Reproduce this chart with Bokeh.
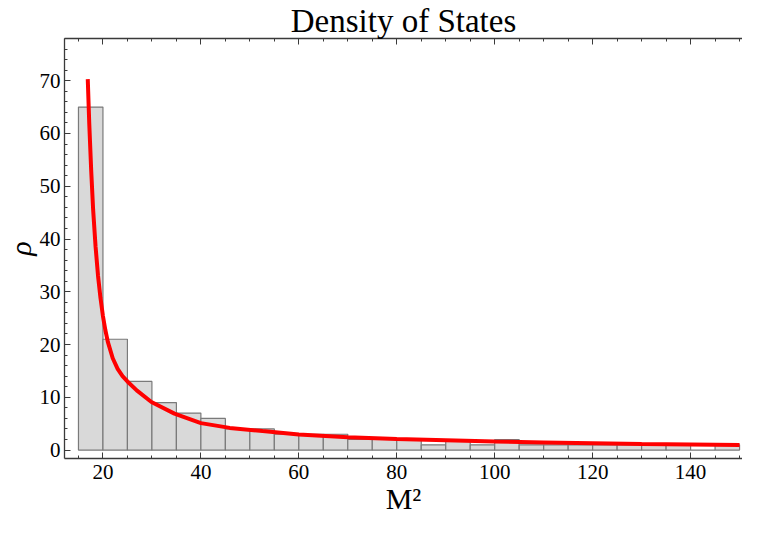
from bokeh.plotting import figure
from bokeh.models import (Range1d, SingleIntervalTicker, LinearAxis, ColumnDataSource,
                          CustomJSTickFormatter)
from bokeh.embed import file_html
from bokeh.resources import INLINE

# Histogram bins (M^2) and counts
bin_left = [15, 20, 25, 30, 35, 40, 45, 50, 55, 60, 65, 70, 75, 80, 85, 90, 95,
            100, 105, 110, 115, 120, 125, 130, 135, 140, 145]
bin_width = 5
counts = [65, 21, 13, 9, 7, 6, 4, 4, 3, 3, 3, 2, 2, 2, 1, 2, 1,
          2, 1, 1, 1, 1, 1, 1, 1, 0, 1]

# Fitted density curve
curve_x = [16.9, 17.2, 17.6, 18.0, 18.5, 19.0, 19.5, 20.0, 20.5, 21.0, 22.0, 23.0,
           24.0, 25.0, 26.9, 29.9, 34.6, 40.0, 45.9, 52.6, 60.0, 70.0, 80.0, 90.0,
           100.0, 110.0, 120.0, 130.0, 140.0, 150.0]
curve_y = [70.3, 62.0, 53.0, 45.5, 38.5, 33.0, 28.8, 25.4, 22.7, 20.5, 17.4, 15.4,
           14.0, 13.0, 11.3, 9.1, 6.9, 5.1, 4.2, 3.6, 2.95, 2.45, 2.1, 1.85,
           1.6, 1.45, 1.3, 1.15, 1.05, 0.95]

bars = ColumnDataSource(dict(
    left=bin_left,
    right=[b + bin_width for b in bin_left],
    top=counts,
    bottom=[0] * len(counts),
))

FONT = "Liberation Serif"
AXIS_COLOR = "#3a3a3a"
TEXT_COLOR = "#000000"

X0, X1 = 12.15, 150.6
Y0, Y1 = -1.6, 78.0

p = figure(width=742, height=517, output_backend="svg", toolbar_location=None,
           x_range=Range1d(X0, X1), y_range=Range1d(Y0, Y1),
           min_border_left=0, min_border_right=0, min_border_top=0,
           min_border_bottom=0)
p.outline_line_color = None
p.grid.visible = False
p.background_fill_color = "white"

p.title.text = "Density of States"
p.title.text_font = FONT
p.title.text_font_size = "33px"
p.title.text_font_style = "normal"
p.title.text_color = TEXT_COLOR
p.title.text_line_height = 0.9
p.title.align = "center"
p.title.standoff = 0
p.title.offset = 0

p.quad(left="left", right="right", top="top", bottom="bottom", source=bars,
       fill_color="#d9d9d9", line_color="#7a7a7a", line_width=1.2)
p.line(curve_x, curve_y, line_color="#ff0000", line_width=4)

p.xaxis.ticker = SingleIntervalTicker(interval=20, num_minor_ticks=4)
p.yaxis.ticker = SingleIntervalTicker(interval=10, num_minor_ticks=5)

for ax in p.xaxis + p.yaxis:
    ax.axis_line_color = AXIS_COLOR
    ax.axis_line_width = 1.3
    ax.major_tick_line_color = AXIS_COLOR
    ax.minor_tick_line_color = AXIS_COLOR
    ax.major_tick_in = 6
    ax.major_tick_out = 0
    ax.minor_tick_in = 3
    ax.minor_tick_out = 0
    ax.major_label_text_font = FONT
    ax.major_label_text_font_size = "21px"
    ax.major_label_text_color = TEXT_COLOR
    ax.axis_label_text_font = FONT
    ax.axis_label_text_font_size = "30px"
    ax.axis_label_text_color = TEXT_COLOR
    ax.axis_label_text_line_height = 0.9
    ax.axis_label_standoff = 0

p.xaxis.axis_label = "M²"
p.xaxis.axis_label_text_font_style = "normal"
p.xaxis.major_label_standoff = 6
p.yaxis.axis_label = "ρ"
p.yaxis.axis_label_text_font_style = "italic"
p.yaxis.major_label_standoff = 4

top_axis = LinearAxis(ticker=SingleIntervalTicker(interval=20, num_minor_ticks=4),
                      formatter=CustomJSTickFormatter(code="return ''"))
top_axis.axis_line_color = AXIS_COLOR
top_axis.axis_line_width = 1.3
top_axis.major_tick_line_color = AXIS_COLOR
top_axis.minor_tick_line_color = AXIS_COLOR
top_axis.major_tick_in = 6
top_axis.major_tick_out = 0
top_axis.minor_tick_in = 3
top_axis.minor_tick_out = 0
top_axis.major_label_standoff = 0
p.add_layout(top_axis, "above")

open("out.html", "w").write(file_html(p, INLINE))
